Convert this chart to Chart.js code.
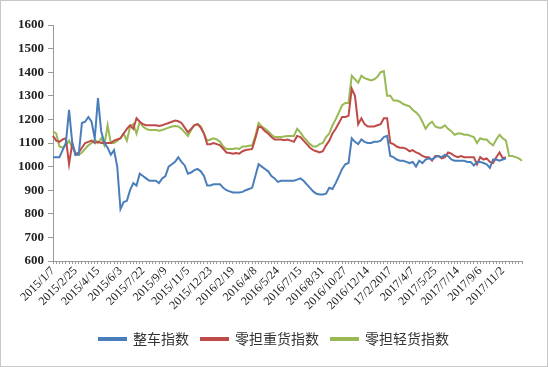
<!DOCTYPE html>
<html>
<head>
<meta charset="utf-8">
<script src="https://cdn.jsdelivr.net/npm/chart.js@4"></script>
<style>
  body { margin: 0; background: #fff; }
  #wrap { width: 548px; height: 367px; box-sizing: border-box; border: 1px solid #c8c8c8; }
</style>
</head>
<body>
<div id="wrap"><canvas id="myChart" width="546" height="365"></canvas></div>
<script>
// tick labels, one every 7 weeks
const tickLabels = ['2015/1/7','2015/2/25','2015/4/15','2015/6/3','2015/7/22','2015/9/9','2015/11/5',
  '2015/12/23','2016/2/19','2016/4/8','2016/5/24','2016/7/15','2016/8/31','2016/10/27','2016/12/14',
  '17/2/2017','2017/4/7','2017/5/25','2017/7/14','2017/9/6','2017/11/2'];

const wholeTruck = [1040,1040,1040,1070,1100,1240,1100,1050,1050,1185,1190,1210,1190,1120,1290,1150,1100,1080,1050,1070,
  1000,820,850,855,900,930,920,970,960,950,940,940,940,930,950,960,1000,1010,1020,1040,
  1020,1005,970,975,985,990,980,960,920,920,925,925,925,910,900,895,890,890,890,893,
  900,905,910,960,1010,1000,990,980,960,950,935,940,940,940,940,940,945,950,940,925,
  910,895,885,882,882,885,910,905,930,960,990,1010,1015,1120,1105,1095,1115,1105,1100,1100,
  1105,1105,1110,1125,1130,1045,1040,1030,1025,1025,1020,1015,1020,1000,1025,1015,1030,1035,1030,1040,
  1045,1040,1050,1045,1030,1025,1025,1025,1025,1020,1020,1005,1020,1020,1015,1010,995,1030,1030,1025,
  1030,1035];

const heavyLTL = [1130,1110,1105,1115,1120,1010,1100,1050,1060,1080,1100,1105,1110,1100,1105,1100,1100,1100,1100,1110,
  1115,1120,1140,1160,1175,1160,1205,1190,1180,1175,1175,1175,1175,1172,1175,1180,1185,1190,1195,1192,
  1185,1165,1145,1160,1175,1180,1165,1140,1095,1095,1100,1095,1090,1075,1060,1058,1055,1058,1055,1065,
  1070,1072,1075,1120,1170,1165,1150,1140,1125,1115,1115,1115,1112,1115,1110,1105,1130,1125,1110,1095,
  1080,1070,1065,1060,1065,1090,1110,1140,1160,1185,1210,1210,1215,1330,1300,1180,1205,1180,1170,1170,
  1170,1175,1180,1205,1205,1100,1095,1085,1080,1080,1075,1065,1070,1060,1055,1045,1040,1040,1025,1045,
  1045,1035,1040,1060,1055,1045,1040,1045,1040,1040,1040,1040,1010,1040,1030,1035,1020,1015,1040,1060,
  1035,1040];

const lightLTL = [1150,1140,1085,1080,1090,1110,1080,1060,1050,1060,1075,1090,1100,1115,1100,1120,1090,1175,1100,1100,
  1110,1120,1140,1110,1170,1180,1140,1190,1170,1160,1155,1155,1155,1152,1155,1160,1165,1170,1172,1170,
  1160,1145,1130,1155,1175,1180,1170,1140,1110,1115,1120,1115,1105,1085,1075,1075,1075,1078,1075,1085,
  1085,1088,1090,1130,1185,1170,1160,1150,1135,1125,1125,1125,1128,1130,1130,1130,1160,1145,1125,1110,
  1095,1085,1085,1095,1100,1125,1140,1175,1200,1230,1260,1270,1270,1385,1370,1355,1385,1375,1370,1365,
  1370,1380,1400,1405,1300,1300,1280,1280,1275,1265,1260,1255,1240,1230,1215,1190,1160,1180,1190,1170,
  1165,1165,1175,1160,1150,1135,1140,1140,1135,1135,1130,1125,1100,1120,1115,1115,1100,1090,1115,1135,
  1120,1110,1045,1045,1040,1035,1025];

const categories = lightLTL.map((v, i) => i);

const ctx = document.getElementById('myChart');

function line(label, data, color) {
  return {
    label: label,
    data: data,
    borderColor: color,
    backgroundColor: color,
    borderWidth: 2,
    pointRadius: 0,
    tension: 0
  };
}

new Chart(ctx, {
  type: 'line',
  data: {
    labels: categories,
    datasets: [
      line('整车指数', wholeTruck, '#4a7ebb'),
      line('零担重货指数', heavyLTL, '#be4b48'),
      line('零担轻货指数', lightLTL, '#98b954')
    ]
  },
  options: {
    responsive: false,
    animation: false,
    layout: { padding: { left: 0, top: 24, right: 0, bottom: 10 } },
    plugins: {
      legend: {
        position: 'bottom',
        labels: {
          boxWidth: 27,
          boxHeight: 2,
          padding: 12,
          color: '#333',
          font: { family: '"Noto Sans CJK SC", sans-serif', size: 14 }
        }
      },
      tooltip: { enabled: false }
    },
    scales: {
      x: {
        offset: false,
        grid: { drawOnChartArea: false, drawTicks: true, tickLength: 3, color: '#999' },
        border: { color: '#999' },
        ticks: {
          autoSkip: false,
          minRotation: 45,
          maxRotation: 45,
          padding: 0,
          color: '#222',
          font: { family: '"Liberation Serif", serif', size: 12 },
          callback: function (v, i) { return i % 7 === 0 ? (tickLabels[i / 7] || '') : ''; }
        },
        afterFit: function (s) { s.height = 59; }
      },
      y: {
        min: 600,
        max: 1600,
        grid: { drawOnChartArea: false, tickLength: 5, color: '#999' },
        border: { color: '#999' },
        ticks: {
          stepSize: 100,
          padding: 4,
          color: '#222',
          font: { family: '"Liberation Serif", serif', size: 13, weight: 'bold' },
          callback: function (v) { return String(v); }
        },
        afterFit: function (s) { s.width = 52; }
      },
      y2: {
        position: 'right',
        display: true,
        grid: { display: false },
        border: { display: false },
        ticks: { display: false },
        afterFit: function (s) { s.width = 25; }
      }
    }
  }
});
</script>
</body>
</html>
